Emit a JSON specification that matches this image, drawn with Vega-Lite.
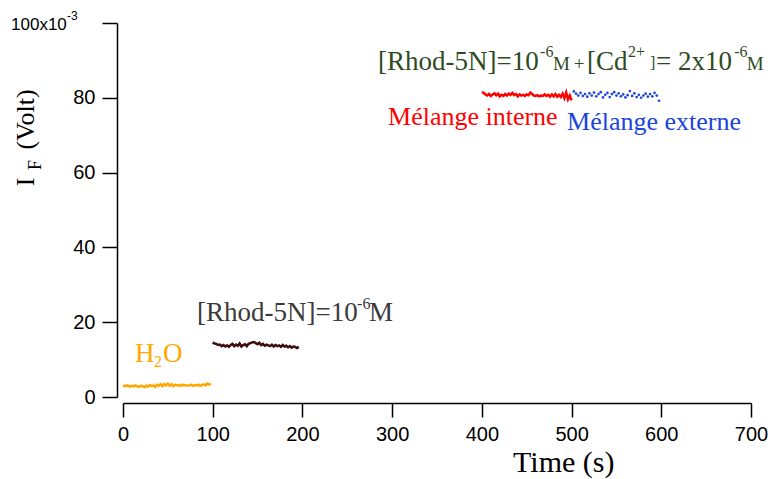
{
  "$schema": "https://vega.github.io/schema/vega-lite/v6.json",
  "width": 628,
  "height": 374,
  "autosize": {"type": "none"},
  "padding": {"left": 123, "top": 23, "right": 22, "bottom": 82},
  "background": "white",
  "config": {"view": {"stroke": null}},
  "datasets": {
    "series": [
      {"s":"H2O","t":0,"v":3.0},{"s":"H2O","t":2,"v":2.9},{"s":"H2O","t":4,"v":3.1},{"s":"H2O","t":6,"v":3.0},{"s":"H2O","t":8,"v":2.8},{"s":"H2O","t":10,"v":3.0},{"s":"H2O","t":12,"v":2.9},{"s":"H2O","t":14,"v":3.1},{"s":"H2O","t":16,"v":2.8},{"s":"H2O","t":18,"v":2.7},{"s":"H2O","t":20,"v":3.0},{"s":"H2O","t":22,"v":2.9},{"s":"H2O","t":24,"v":2.6},{"s":"H2O","t":26,"v":3.0},{"s":"H2O","t":28,"v":2.8},{"s":"H2O","t":30,"v":3.2},{"s":"H2O","t":32,"v":2.9},{"s":"H2O","t":34,"v":3.1},{"s":"H2O","t":36,"v":2.7},{"s":"H2O","t":38,"v":3.3},{"s":"H2O","t":40,"v":3.0},{"s":"H2O","t":42,"v":3.4},{"s":"H2O","t":44,"v":2.9},{"s":"H2O","t":46,"v":3.5},{"s":"H2O","t":48,"v":3.1},{"s":"H2O","t":50,"v":3.6},{"s":"H2O","t":52,"v":3.0},{"s":"H2O","t":54,"v":3.4},{"s":"H2O","t":56,"v":2.9},{"s":"H2O","t":58,"v":3.3},{"s":"H2O","t":60,"v":3.1},{"s":"H2O","t":62,"v":3.2},{"s":"H2O","t":64,"v":3.0},{"s":"H2O","t":66,"v":3.3},{"s":"H2O","t":68,"v":3.1},{"s":"H2O","t":70,"v":3.2},{"s":"H2O","t":72,"v":3.0},{"s":"H2O","t":74,"v":3.1},{"s":"H2O","t":76,"v":3.3},{"s":"H2O","t":78,"v":3.0},{"s":"H2O","t":80,"v":3.2},{"s":"H2O","t":82,"v":3.1},{"s":"H2O","t":84,"v":3.3},{"s":"H2O","t":86,"v":3.0},{"s":"H2O","t":88,"v":3.2},{"s":"H2O","t":90,"v":3.4},{"s":"H2O","t":92,"v":3.1},{"s":"H2O","t":94,"v":3.6},{"s":"H2O","t":96,"v":3.3},{"s":"H2O","t":98,"v":3.5},
      {"s":"Rhod","t":100,"v":14.6},{"s":"Rhod","t":102,"v":14.3},{"s":"Rhod","t":104,"v":14.2},{"s":"Rhod","t":106,"v":13.9},{"s":"Rhod","t":108,"v":14.0},{"s":"Rhod","t":110,"v":13.6},{"s":"Rhod","t":112,"v":13.9},{"s":"Rhod","t":114,"v":13.5},{"s":"Rhod","t":116,"v":13.8},{"s":"Rhod","t":118,"v":13.4},{"s":"Rhod","t":120,"v":13.9},{"s":"Rhod","t":122,"v":14.2},{"s":"Rhod","t":124,"v":13.6},{"s":"Rhod","t":126,"v":14.0},{"s":"Rhod","t":128,"v":13.7},{"s":"Rhod","t":130,"v":14.3},{"s":"Rhod","t":132,"v":13.5},{"s":"Rhod","t":134,"v":13.9},{"s":"Rhod","t":136,"v":14.1},{"s":"Rhod","t":138,"v":13.6},{"s":"Rhod","t":140,"v":14.2},{"s":"Rhod","t":142,"v":14.4},{"s":"Rhod","t":144,"v":14.6},{"s":"Rhod","t":146,"v":14.7},{"s":"Rhod","t":148,"v":14.4},{"s":"Rhod","t":150,"v":14.1},{"s":"Rhod","t":152,"v":14.5},{"s":"Rhod","t":154,"v":13.9},{"s":"Rhod","t":156,"v":14.2},{"s":"Rhod","t":158,"v":13.7},{"s":"Rhod","t":160,"v":14.0},{"s":"Rhod","t":162,"v":13.8},{"s":"Rhod","t":164,"v":13.6},{"s":"Rhod","t":166,"v":14.0},{"s":"Rhod","t":168,"v":13.5},{"s":"Rhod","t":170,"v":13.9},{"s":"Rhod","t":172,"v":13.6},{"s":"Rhod","t":174,"v":13.8},{"s":"Rhod","t":176,"v":13.4},{"s":"Rhod","t":178,"v":13.9},{"s":"Rhod","t":180,"v":13.5},{"s":"Rhod","t":182,"v":13.7},{"s":"Rhod","t":184,"v":13.3},{"s":"Rhod","t":186,"v":13.6},{"s":"Rhod","t":188,"v":13.2},{"s":"Rhod","t":190,"v":13.5},{"s":"Rhod","t":192,"v":13.4},{"s":"Rhod","t":194,"v":13.1},{"s":"Rhod","t":196,"v":13.4},
      {"s":"interne","t":400,"v":81.5},{"s":"interne","t":402,"v":81.3},{"s":"interne","t":404,"v":80.9},{"s":"interne","t":406,"v":80.6},{"s":"interne","t":408,"v":81.0},{"s":"interne","t":410,"v":80.5},{"s":"interne","t":412,"v":80.9},{"s":"interne","t":414,"v":81.2},{"s":"interne","t":416,"v":80.7},{"s":"interne","t":418,"v":81.1},{"s":"interne","t":420,"v":80.4},{"s":"interne","t":422,"v":80.8},{"s":"interne","t":424,"v":80.5},{"s":"interne","t":426,"v":81.0},{"s":"interne","t":428,"v":80.6},{"s":"interne","t":430,"v":81.1},{"s":"interne","t":432,"v":80.8},{"s":"interne","t":434,"v":81.3},{"s":"interne","t":436,"v":80.7},{"s":"interne","t":438,"v":81.0},{"s":"interne","t":440,"v":80.4},{"s":"interne","t":442,"v":80.9},{"s":"interne","t":444,"v":80.6},{"s":"interne","t":446,"v":80.8},{"s":"interne","t":448,"v":80.5},{"s":"interne","t":450,"v":80.9},{"s":"interne","t":452,"v":80.7},{"s":"interne","t":454,"v":81.4},{"s":"interne","t":456,"v":81.0},{"s":"interne","t":458,"v":80.6},{"s":"interne","t":460,"v":80.5},{"s":"interne","t":462,"v":80.7},{"s":"interne","t":464,"v":80.4},{"s":"interne","t":466,"v":80.6},{"s":"interne","t":468,"v":80.5},{"s":"interne","t":470,"v":80.9},{"s":"interne","t":472,"v":80.5},{"s":"interne","t":474,"v":80.8},{"s":"interne","t":476,"v":80.3},{"s":"interne","t":478,"v":80.9},{"s":"interne","t":480,"v":80.4},{"s":"interne","t":482,"v":81.0},{"s":"interne","t":484,"v":80.3},{"s":"interne","t":486,"v":80.8},{"s":"interne","t":488,"v":80.2},{"s":"interne","t":490,"v":81.1},{"s":"interne","t":492,"v":79.9},{"s":"interne","t":494,"v":81.4},{"s":"interne","t":496,"v":79.6},{"s":"interne","t":498,"v":80.6},{"s":"interne","t":500,"v":79.3}
    ],
    "dots": [
      {"s":"externe","t":502.5,"v":81.7},{"s":"externe","t":505,"v":81.1},{"s":"externe","t":507.5,"v":80.6},{"s":"externe","t":510,"v":81.3},{"s":"externe","t":512.5,"v":80.5},{"s":"externe","t":515,"v":81.0},{"s":"externe","t":517.5,"v":80.3},{"s":"externe","t":520,"v":81.2},{"s":"externe","t":522.5,"v":80.6},{"s":"externe","t":525,"v":81.4},{"s":"externe","t":527.5,"v":80.4},{"s":"externe","t":530,"v":81.0},{"s":"externe","t":532.5,"v":81.5},{"s":"externe","t":535,"v":80.1},{"s":"externe","t":537.5,"v":80.8},{"s":"externe","t":540,"v":81.3},{"s":"externe","t":542.5,"v":80.2},{"s":"externe","t":545,"v":81.0},{"s":"externe","t":547.5,"v":81.5},{"s":"externe","t":550,"v":80.6},{"s":"externe","t":552.5,"v":81.2},{"s":"externe","t":555,"v":80.4},{"s":"externe","t":557.5,"v":80.9},{"s":"externe","t":560,"v":80.1},{"s":"externe","t":562.5,"v":80.7},{"s":"externe","t":565,"v":81.8},{"s":"externe","t":567.5,"v":80.5},{"s":"externe","t":570,"v":81.2},{"s":"externe","t":572.5,"v":80.2},{"s":"externe","t":575,"v":80.8},{"s":"externe","t":577.5,"v":80.0},{"s":"externe","t":580,"v":80.6},{"s":"externe","t":582.5,"v":81.1},{"s":"externe","t":585,"v":80.3},{"s":"externe","t":587.5,"v":81.0},{"s":"externe","t":590,"v":80.4},{"s":"externe","t":592.5,"v":81.3},{"s":"externe","t":595,"v":80.6},{"s":"externe","t":597.5,"v":79.2}
    ],
    "txt": [
      {"x":13.4,"y":9.36,"text":"H","s":"H2O"},
      {"x":44.6,"y":9.36,"text":"O","s":"H2O"},
      {"x":82.5,"y":20.3,"text":"[Rhod-5N]=10","s":"gray"},
      {"x":274.2,"y":20.3,"text":"M","s":"gray"},
      {"x":284.3,"y":87.4,"text":"[Rhod-5N]=10","s":"mix"},
      {"x":517.3,"y":87.4,"text":"[Cd","s":"mix"},
      {"x":594.2,"y":87.4,"text":"= 2x10","s":"mix"}
    ],
    "lbl": [
      {"x":295.4,"y":72.7,"text":"Mélange interne","s":"interne"},
      {"x":495.0,"y":71.4,"text":"Mélange externe","s":"externe"}
    ],
    "mid": [
      {"x":479.4,"y":87.4,"text":"M","s":"mix"},
      {"x":502.3,"y":87.4,"text":"+","s":"mix"},
      {"x":695.3,"y":87.4,"text":"M","s":"mix"}
    ],
    "sup": [
      {"x":34.6,"y":8.0,"text":"2","s":"H2O"},
      {"x":260.9,"y":23.5,"text":"-6","s":"gray"},
      {"x":464.9,"y":90.9,"text":"-6","s":"mix"},
      {"x":563.0,"y":90.9,"text":"2+","s":"mix"},
      {"x":587.5,"y":88.0,"text":"]","s":"mix"},
      {"x":681.2,"y":90.9,"text":"-6","s":"mix"}
    ],
    "ytop": [{"x":-124.8,"y":98.1,"text":"100x10","s":"axis"}],
    "ytopsup": [{"x":-62.4,"y":100.8,"text":"-3","s":"axis"}],
    "xtitle": [{"x":434.8,"y":-20.05,"text":"Time (s)","s":"axis"}],
    "ytitle": [
      {"x":-99.2,"y":74.2,"text":"(Volt)","s":"axis"},
      {"x":-99.2,"y":57.5,"text":"I","s":"axis"}
    ],
    "ysub": [{"x":-91.4,"y":62.0,"text":"F","s":"axis"}]
  },
  "layer": [
    {
      "data": {"name": "series"},
      "mark": {"type": "line", "strokeWidth": 2.5, "interpolate": "linear"},
      "encoding": {
        "x": {"field": "t", "type": "quantitative",
          "scale": {"domain": [0, 700], "nice": false, "zero": false},
          "axis": {"values": [0,100,200,300,400,500,600,700], "title": null, "grid": false,
            "offset": 6, "tickSize": 14, "tickWidth": 1.5, "domainWidth": 1.5, "domainColor": "black", "tickColor": "black",
            "labelFont": "Liberation Sans", "labelFontSize": 20, "labelColor": "black", "labelPadding": 7, "labelFlush": false}},
        "y": {"field": "v", "type": "quantitative",
          "scale": {"domain": [0, 100], "nice": false, "zero": false},
          "axis": {"values": [0,20,40,60,80,100], "title": null, "grid": false,
            "offset": 6, "tickSize": 15, "tickWidth": 1.5, "domainWidth": 1.5, "domainColor": "black", "tickColor": "black",
            "labelFont": "Liberation Sans", "labelFontSize": 20, "labelColor": "black", "labelPadding": 7, "labelFlush": false,
            "labelExpr": "datum.value == 100 ? '' : datum.label"}},
        "color": {"field": "s", "type": "nominal", "legend": null,
          "scale": {"domain": ["H2O","Rhod","interne","externe","gray","mix","axis"],
                    "range": ["#FFA800","#3D0C0C","#FF0000","#1B44DD","#3A3A3A","#2E4B1F","#000000"]}},
        "detail": {"field": "s"}
      }
    },
    {
      "data": {"name": "dots"},
      "mark": {"type": "point", "filled": true, "size": 7, "opacity": 1},
      "encoding": {
        "x": {"field": "t", "type": "quantitative"},
        "y": {"field": "v", "type": "quantitative"},
        "color": {"field": "s", "type": "nominal"}
      }
    },
    {
      "data": {"name": "txt"},
      "mark": {"type": "text", "font": "Liberation Serif", "fontSize": 27, "align": "left", "baseline": "alphabetic"},
      "encoding": {
        "x": {"field": "x", "type": "quantitative"},
        "y": {"field": "y", "type": "quantitative"},
        "text": {"field": "text"},
        "color": {"field": "s", "type": "nominal"}
      }
    },
    {
      "data": {"name": "lbl"},
      "mark": {"type": "text", "font": "Liberation Serif", "fontSize": 26, "align": "left", "baseline": "alphabetic"},
      "encoding": {
        "x": {"field": "x", "type": "quantitative"},
        "y": {"field": "y", "type": "quantitative"},
        "text": {"field": "text"},
        "color": {"field": "s", "type": "nominal"}
      }
    },
    {
      "data": {"name": "mid"},
      "mark": {"type": "text", "font": "Liberation Serif", "fontSize": 19, "align": "left", "baseline": "alphabetic"},
      "encoding": {
        "x": {"field": "x", "type": "quantitative"},
        "y": {"field": "y", "type": "quantitative"},
        "text": {"field": "text"},
        "color": {"field": "s", "type": "nominal"}
      }
    },
    {
      "data": {"name": "sup"},
      "mark": {"type": "text", "font": "Liberation Serif", "fontSize": 16, "align": "left", "baseline": "alphabetic"},
      "encoding": {
        "x": {"field": "x", "type": "quantitative"},
        "y": {"field": "y", "type": "quantitative"},
        "text": {"field": "text"},
        "color": {"field": "s", "type": "nominal"}
      }
    },
    {
      "data": {"name": "ytop"},
      "mark": {"type": "text", "font": "Liberation Sans", "fontSize": 17, "align": "left", "baseline": "alphabetic"},
      "encoding": {
        "x": {"field": "x", "type": "quantitative"},
        "y": {"field": "y", "type": "quantitative"},
        "text": {"field": "text"},
        "color": {"field": "s", "type": "nominal"}
      }
    },
    {
      "data": {"name": "ytopsup"},
      "mark": {"type": "text", "font": "Liberation Sans", "fontSize": 12, "align": "left", "baseline": "alphabetic"},
      "encoding": {
        "x": {"field": "x", "type": "quantitative"},
        "y": {"field": "y", "type": "quantitative"},
        "text": {"field": "text"},
        "color": {"field": "s", "type": "nominal"}
      }
    },
    {
      "data": {"name": "xtitle"},
      "mark": {"type": "text", "font": "Liberation Serif", "fontSize": 30, "align": "left", "baseline": "alphabetic"},
      "encoding": {
        "x": {"field": "x", "type": "quantitative"},
        "y": {"field": "y", "type": "quantitative"},
        "text": {"field": "text"},
        "color": {"field": "s", "type": "nominal"}
      }
    },
    {
      "data": {"name": "ytitle"},
      "mark": {"type": "text", "font": "Liberation Serif", "fontSize": 26, "align": "center", "baseline": "alphabetic", "angle": 270},
      "encoding": {
        "x": {"field": "x", "type": "quantitative"},
        "y": {"field": "y", "type": "quantitative"},
        "text": {"field": "text"},
        "color": {"field": "s", "type": "nominal"}
      }
    },
    {
      "data": {"name": "ysub"},
      "mark": {"type": "text", "font": "Liberation Serif", "fontSize": 18, "align": "center", "baseline": "alphabetic", "angle": 270},
      "encoding": {
        "x": {"field": "x", "type": "quantitative"},
        "y": {"field": "y", "type": "quantitative"},
        "text": {"field": "text"},
        "color": {"field": "s", "type": "nominal"}
      }
    }
  ]
}
